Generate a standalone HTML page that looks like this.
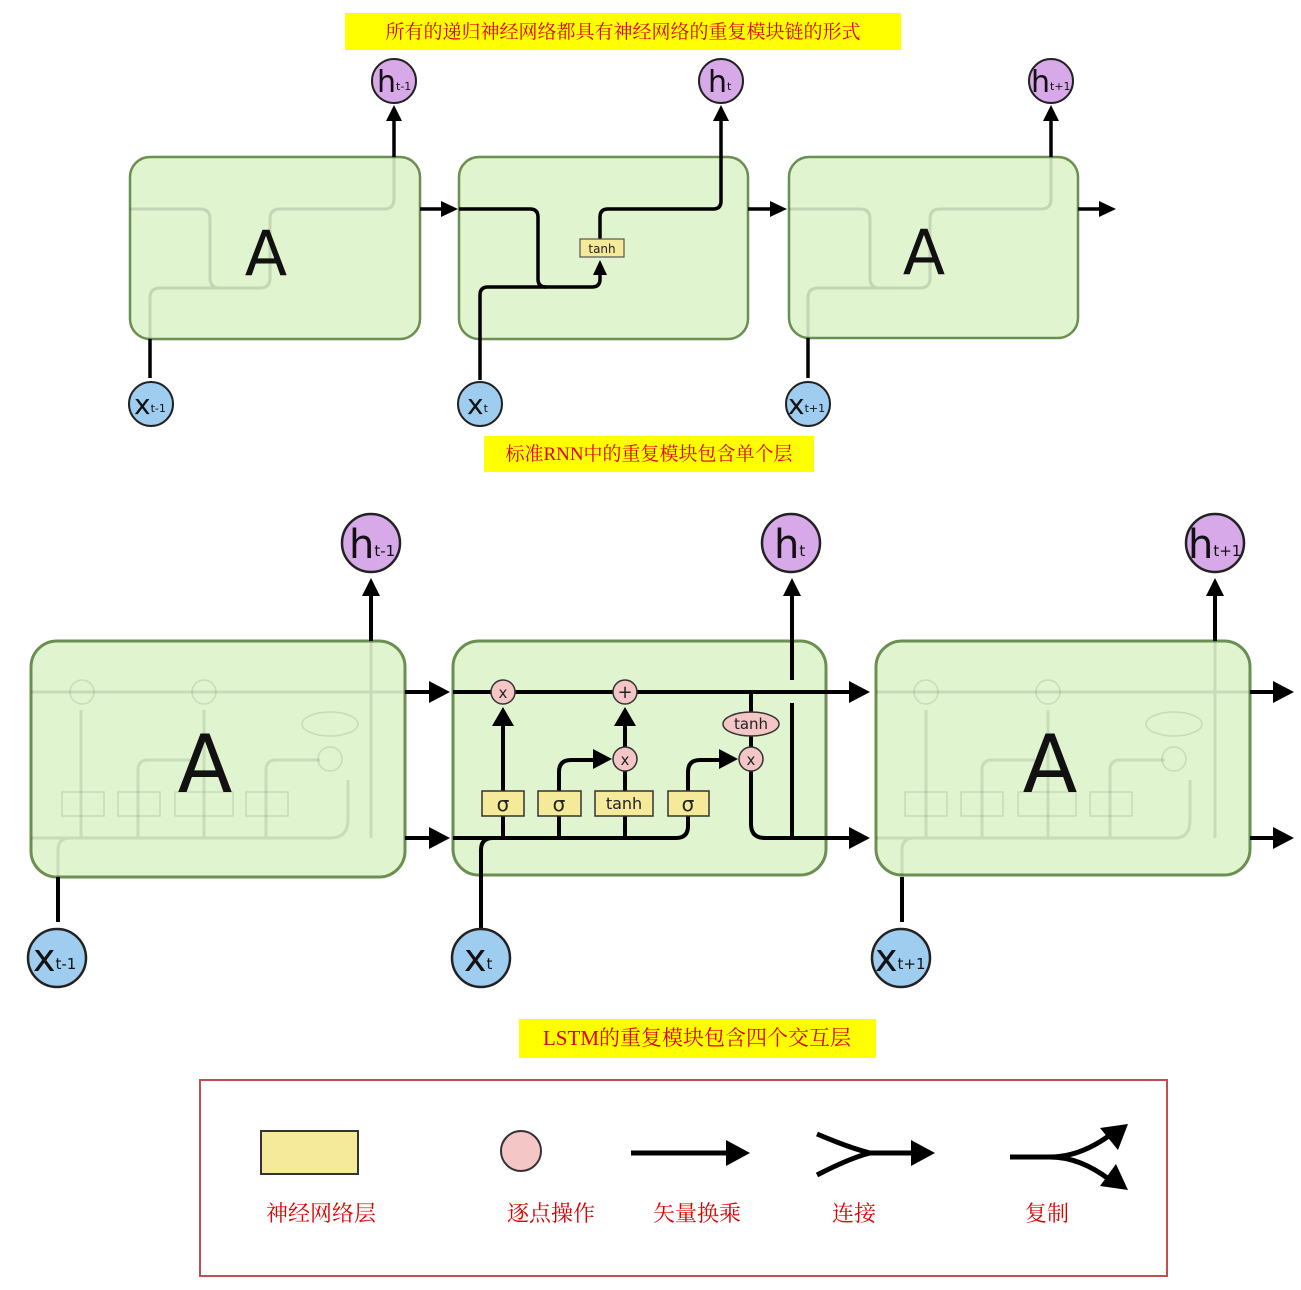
<!DOCTYPE html>
<html><head><meta charset="utf-8"><style>
html,body{margin:0;padding:0;background:#fff;}
svg{display:block;}
.cn{font-family:"Liberation Serif","Noto Serif CJK SC",serif;fill:#e00000;}
.sans{font-family:"DejaVu Sans","Liberation Sans",sans-serif;}
</style></head><body>
<svg width="1301" height="1290" viewBox="0 0 1301 1290" xmlns="http://www.w3.org/2000/svg">
<defs>
<marker id="ar" markerWidth="8" markerHeight="8" refX="6" refY="4" orient="auto" markerUnits="userSpaceOnUse"><path d="M0,0 L0,0" /></marker>
</defs>
<!-- Title -->
<rect x="345" y="13" width="556" height="37" fill="#ffff00"/>
<text x="623" y="38" class="cn" font-size="19" text-anchor="middle">所有的递归神经网络都具有神经网络的重复模块链的形式</text>

<!-- top RNN cells -->
<g stroke="#6a8f50" stroke-width="2.5" fill="#e0f4d0">
<rect x="130" y="157" width="290" height="182" rx="20"/>
<rect x="459" y="157" width="289" height="182" rx="20"/>
<rect x="789" y="157" width="289" height="181" rx="20"/>
</g>
<g stroke="#000" stroke-width="3" fill="none" opacity="0.12">
<path d="M130,209 H200 Q210,209 210,219 V278 Q210,288 220,288 H160 Q150,288 150,298 V339"/>
<path d="M200,288 H260 Q270,288 270,278 V219 Q270,209 280,209 H384 Q394,209 394,199 V157"/>
<path d="M789,209 H860 Q870,209 870,219 V278 Q870,288 880,288 H818 Q808,288 808,298 V338"/>
<path d="M860,288 H920 Q930,288 930,278 V219 Q930,209 940,209 H1041 Q1051,209 1051,199 V157"/>
</g>
<g stroke="#000" stroke-width="3.5" fill="none">
<path d="M394,157 V118"/>
<path d="M150,339 V378"/>
<path d="M420,209 H444"/>
<path d="M748,209 H773"/>
<path d="M1078,209 H1102"/>
<path d="M1051,157 V118"/>
<path d="M808,338 V378"/>
<path d="M459,209 H530 Q538,209 538,217 V279 Q538,287 546,287 H592 Q600,287 600,279 V274"/>
<path d="M480,380 V295 Q480,287 488,287 H546"/>
<path d="M600,239 V217 Q600,209 608,209 H713 Q721,209 721,201 V118"/>
</g>
<g fill="#000">
<path d="M386,121 L394,105 L402,121Z"/>
<path d="M713,121 L721,105 L729,121Z"/>
<path d="M1043,121 L1051,105 L1059,121Z"/>
<path d="M441,201 L458,209 L441,217Z"/>
<path d="M770,201 L787,209 L770,217Z"/>
<path d="M1099,201 L1116,209 L1099,217Z"/>
<path d="M593,275 L600,260 L607,275Z"/>
</g>
<rect x="580" y="239" width="44" height="18" fill="#f5e99a" stroke="#555" stroke-width="1.2"/>
<text x="602" y="253" class="sans" font-size="12" text-anchor="middle" fill="#222">tanh</text>
<text x="266" y="275" class="sans" font-size="62" text-anchor="middle" fill="#111">A</text>
<text x="924" y="274" class="sans" font-size="62" text-anchor="middle" fill="#111">A</text>
<!-- top circles -->
<g stroke="#222" stroke-width="2">
<circle cx="394" cy="81" r="22" fill="#d8a9e8"/>
<circle cx="721" cy="81" r="22" fill="#d8a9e8"/>
<circle cx="1051" cy="81" r="22" fill="#d8a9e8"/>
<circle cx="151" cy="404" r="22" fill="#9fcdf0"/>
<circle cx="480" cy="404" r="22" fill="#9fcdf0"/>
<circle cx="808" cy="404" r="22" fill="#9fcdf0"/>
</g>
<g class="sans" fill="#111">
<text x="377" y="92" font-size="30">h<tspan font-size="11" dy="-2">t-1</tspan></text>
<text x="708" y="92" font-size="30">h<tspan font-size="11" dy="-2">t</tspan></text>
<text x="1031" y="92" font-size="30">h<tspan font-size="11" dy="-2">t+1</tspan></text>
<text x="134" y="414" font-size="28">x<tspan font-size="11" dy="-2">t-1</tspan></text>
<text x="467" y="414" font-size="28">x<tspan font-size="11" dy="-2">t</tspan></text>
<text x="788" y="414" font-size="28">x<tspan font-size="11" dy="-2">t+1</tspan></text>
</g>
<rect x="484" y="436" width="330" height="36" fill="#ffff00"/>
<text x="649" y="460" class="cn" font-size="19" text-anchor="middle">标准RNN中的重复模块包含单个层</text>

<!-- LSTM cells -->
<g stroke="#6a8f50" stroke-width="3" fill="#e0f4d0">
<rect x="31" y="641" width="374" height="236" rx="26"/>
<rect x="453" y="641" width="373" height="234" rx="26"/>
<rect x="876" y="641" width="374" height="234" rx="26"/>
</g>
<!-- faint internals -->
<g stroke="#000" stroke-width="3" fill="none" opacity="0.1">
<path d="M31,692 H405 M31,838 H330 Q348,838 348,820 V780 M371,641 V838 M81,838 V710 M138,838 V770 Q138,760 148,760 H190 M204,838 V710 M266,838 V770 Q266,760 276,760 H320 M58,877 V850 Q58,838 70,838"/>
<path d="M876,692 H1250 M876,838 H1175 Q1190,838 1190,820 V780 M1215,641 V838 M926,838 V710 M982,838 V770 Q982,760 992,760 H1035 M1048,838 V710 M1110,838 V770 Q1110,760 1120,760 H1165 M902,877 V850 Q902,838 914,838"/>
</g>
<g fill="none" stroke="#000" stroke-width="1.5" opacity="0.1">
<rect x="62" y="792" width="42" height="24"/><rect x="118" y="792" width="42" height="24"/><rect x="175" y="792" width="58" height="24"/><rect x="246" y="792" width="42" height="24"/>
<circle cx="82" cy="692" r="12"/><circle cx="204" cy="692" r="12"/><circle cx="330" cy="759" r="12"/><ellipse cx="330" cy="724" rx="28" ry="12"/>
<rect x="905" y="792" width="42" height="24"/><rect x="961" y="792" width="42" height="24"/><rect x="1018" y="792" width="58" height="24"/><rect x="1090" y="792" width="42" height="24"/>
<circle cx="926" cy="692" r="12"/><circle cx="1048" cy="692" r="12"/><circle cx="1174" cy="759" r="12"/><ellipse cx="1174" cy="724" rx="28" ry="12"/>
</g>
<text x="205" y="792" class="sans" font-size="80" text-anchor="middle" fill="#111">A</text>
<text x="1050" y="792" class="sans" font-size="80" text-anchor="middle" fill="#111">A</text>

<g stroke="#000" stroke-width="4" fill="none">
<path d="M371,641 V592"/>
<path d="M1215,641 V592"/>
<path d="M58,877 V922"/>
<path d="M902,877 V922"/>
<path d="M405,692 H432 M405,838 H432"/>
<path d="M453,692 H852 M826,838 H852"/>
<path d="M1250,692 H1276 M1250,838 H1276"/>
<path d="M453,838 H676 Q688,838 688,826 V816"/>
<path d="M481,928 V850 Q481,838 493,838"/>
<path d="M503,838 V722"/>
<path d="M559,838 V816 M559,791 V772 Q559,760 571,760 H596"/>
<path d="M625,838 V816 M625,791 V771 M625,747 V722"/>
<path d="M688,791 V772 Q688,760 700,760 H722"/>
<path d="M751,692 V712 M751,736 V747"/>
<path d="M751,771 V824 Q751,838 765,838 H826"/>
<path d="M792,838 V703 M792,680 V592"/>
</g>
<g fill="#000">
<path d="M362,596 L371,578 L380,596Z"/>
<path d="M783,596 L792,578 L801,596Z"/>
<path d="M1206,596 L1215,578 L1224,596Z"/>
<path d="M429,681 L450,692 L429,703Z M429,827 L450,838 L429,849Z"/>
<path d="M849,681 L870,692 L849,703Z M849,827 L870,838 L849,849Z"/>
<path d="M1273,681 L1294,692 L1273,703Z M1273,827 L1294,838 L1273,849Z"/>
<path d="M492,726 L503,707 L514,726Z"/>
<path d="M614,726 L625,707 L636,726Z"/>
<path d="M593,749 L612,759 L593,769Z"/>
<path d="M719,749 L738,759 L719,769Z"/>
</g>
<g stroke="#333" stroke-width="1.5">
<rect x="482" y="791" width="42" height="25" fill="#f5e99a"/>
<rect x="538" y="791" width="43" height="25" fill="#f5e99a"/>
<rect x="595" y="791" width="58" height="25" fill="#f5e99a"/>
<rect x="668" y="791" width="41" height="25" fill="#f5e99a"/>
<circle cx="503" cy="692" r="12" fill="#f4c6c6"/>
<circle cx="625" cy="692" r="12" fill="#f4c6c6"/>
<circle cx="625" cy="759" r="12" fill="#f4c6c6"/>
<circle cx="751" cy="759" r="12" fill="#f4c6c6"/>
<ellipse cx="751" cy="724" rx="28" ry="12" fill="#f4c6c6"/>
</g>
<g class="sans" fill="#222" text-anchor="middle">
<text x="503" y="811" font-size="20">σ</text>
<text x="559" y="811" font-size="20">σ</text>
<text x="624" y="809" font-size="16">tanh</text>
<text x="688" y="811" font-size="20">σ</text>
<text x="751" y="729" font-size="15">tanh</text>
<text x="503" y="698" font-size="15">x</text>
<text x="625" y="698" font-size="18">+</text>
<text x="625" y="765" font-size="15">x</text>
<text x="751" y="765" font-size="15">x</text>
</g>
<g stroke="#222" stroke-width="2.5">
<circle cx="371" cy="543" r="29" fill="#d8a9e8"/>
<circle cx="791" cy="543" r="29" fill="#d8a9e8"/>
<circle cx="1215" cy="543" r="29" fill="#d8a9e8"/>
<circle cx="57" cy="958" r="29" fill="#9fcdf0"/>
<circle cx="481" cy="958" r="29" fill="#9fcdf0"/>
<circle cx="901" cy="958" r="29" fill="#9fcdf0"/>
</g>
<g class="sans" fill="#111">
<text x="349" y="558" font-size="40">h<tspan font-size="15" dy="-2">t-1</tspan></text>
<text x="774" y="558" font-size="40">h<tspan font-size="15" dy="-2">t</tspan></text>
<text x="1188" y="558" font-size="40">h<tspan font-size="15" dy="-2">t+1</tspan></text>
<text x="33" y="971" font-size="38">x<tspan font-size="15" dy="-2">t-1</tspan></text>
<text x="464" y="971" font-size="38">x<tspan font-size="15" dy="-2">t</tspan></text>
<text x="875" y="971" font-size="38">x<tspan font-size="15" dy="-2">t+1</tspan></text>
</g>

<rect x="519" y="1019" width="357" height="39" fill="#ffff00"/>
<text x="697" y="1045" class="cn" font-size="21" text-anchor="middle">LSTM的重复模块包含四个交互层</text>

<!-- legend -->
<rect x="200" y="1080" width="967" height="196" fill="#fff" stroke="#c05050" stroke-width="2"/>
<rect x="261" y="1131" width="97" height="43" fill="#f5e99a" stroke="#333" stroke-width="2"/>
<circle cx="521" cy="1151" r="20" fill="#f4c6c6" stroke="#333" stroke-width="2"/>
<g stroke="#000" stroke-width="5" fill="none">
<path d="M631,1153 H730"/>
<path d="M817,1134 Q850,1148 870,1153 M817,1175 Q850,1158 870,1153 M870,1153 H915"/>
<path d="M1010,1157 H1050 Q1080,1157 1110,1135 M1050,1157 Q1080,1157 1110,1180"/>
</g>
<g fill="#000">
<path d="M726,1140 L750,1153 L726,1166Z"/>
<path d="M911,1140 L935,1153 L911,1166Z"/>
<path d="M1100,1128 L1128,1124 L1118,1150Z"/>
<path d="M1100,1186 L1128,1190 L1116,1164Z"/>
</g>
<g class="cn" font-size="22" text-anchor="middle">
<text x="321" y="1221">神经网络层</text>
<text x="551" y="1221">逐点操作</text>
<text x="697" y="1221">矢量换乘</text>
<text x="854" y="1221">连接</text>
<text x="1047" y="1221">复制</text>
</g>
</svg>
</body></html>
